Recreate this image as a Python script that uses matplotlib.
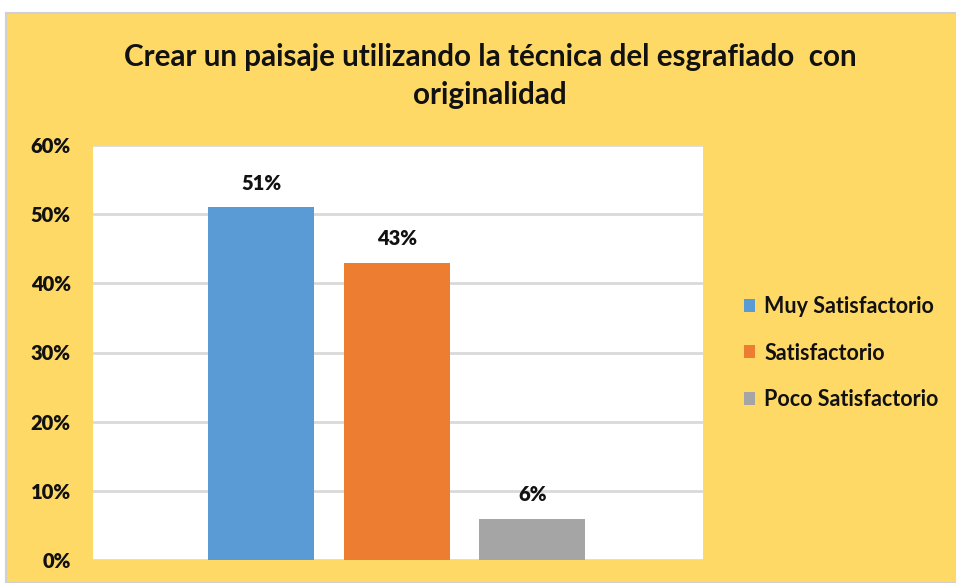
import matplotlib.pyplot as plt
from matplotlib.patches import Rectangle
from matplotlib.ticker import FuncFormatter

# data
categories = ['Muy Satisfactorio', 'Satisfactorio', 'Poco Satisfactorio']
values = [0.51, 0.43, 0.06]
value_labels = ['51%', '43%', '6%']
colors = ['#5B9BD5', '#ED7D31', '#A5A5A5']
title = 'Crear un paisaje utilizando la técnica del esgrafiado  con\noriginalidad'

plt.rcParams['font.family'] = ['Lato', 'DejaVu Sans']

fig = plt.figure(figsize=(9.56, 5.83), dpi=100, facecolor='white')

# yellow chart area with a thin grey edge (white strip top/left like a screenshot)
bg = Rectangle((6 / 956, 0), 1, (583 - 13) / 583, transform=fig.transFigure,
               facecolor='#FFD966', edgecolor='#D0D0D0', linewidth=1.5, zorder=-10)
fig.patches.append(bg)

ax = fig.add_axes([93 / 956, 23 / 583, 610 / 956, 415 / 583])
ax.set_facecolor('white')

x = list(range(len(categories)))
bars = ax.bar(x, values, width=0.78, color=colors, label=categories, zorder=3)

for b, lab in zip(bars, value_labels):
    ax.annotate(lab, (b.get_x() + b.get_width() / 2, b.get_height()),
                xytext=(0, 17), textcoords='offset points',
                ha='center', va='center', fontsize=14.5, fontweight='heavy', color='#111111')

ax.set_xlim(-1.24, 3.26)
ax.set_ylim(0, 0.6)
ax.set_yticks([i / 10 for i in range(7)])
ax.yaxis.set_major_formatter(FuncFormatter(lambda v, p: '{:.0f}%'.format(v * 100)))
ax.set_xticks([])
ax.grid(axis='y', color='#D9D9D9', linewidth=2, zorder=0)
ax.set_axisbelow(True)
for s in ax.spines.values():
    s.set_visible(False)
ax.tick_params(axis='y', length=0, pad=16, labelsize=14.5)
for t in ax.get_yticklabels():
    t.set_fontweight('heavy')
    t.set_color('#111111')

fig.text(490 / 956, 1 - 76 / 583, title, ha='center', va='center', fontsize=21.3,
         fontweight='bold', color='#111111', linespacing=1.45)

leg = ax.legend(loc='center left', bbox_to_anchor=(735 / 956, 1 - 353 / 583),
                bbox_transform=fig.transFigure, frameon=False, fontsize=15.5,
                handlelength=0.55, handleheight=0.55, handletextpad=0.4,
                labelspacing=1.2, borderaxespad=0)
for t in leg.get_texts():
    t.set_fontweight('bold')
    t.set_color('#111111')

plt.savefig('out.png', dpi=100, facecolor=fig.get_facecolor())
